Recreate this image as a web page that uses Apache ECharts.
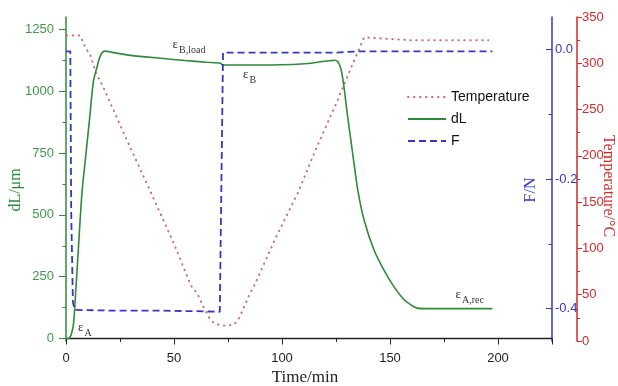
<!DOCTYPE html>
<html lang="en">
<head>
<meta charset="utf-8">
<title>dL / F / Temperature</title>
<style>
  html, body { margin: 0; padding: 0; background: #fff; }
  #main { width: 618px; height: 386px; }
</style>
</head>
<body>
<div id="main"></div>
<script src="https://cdn.jsdelivr.net/npm/echarts/dist/echarts.min.js"></script>
<script>
// ---- data ----
var tempTime = [0.3, 6.5, 8.8, 11.4, 13.8, 17.3, 28, 39, 50, 57.8, 60.9, 63.2, 66.3, 68.6, 71.7, 74.8, 77.9, 80.2, 82.5, 84.9, 87.2, 97, 107.5, 116, 125, 133.4, 138, 145, 152, 159, 170, 195.5];
var tempValue = [330, 330, 318, 308, 290, 274, 218, 162, 105, 60, 51, 39, 25, 19, 17, 16.5, 18, 25, 37, 50, 60, 111, 161, 209, 256, 303, 328, 327, 326, 325, 325, 325];

var dLTime = [0, 1.5, 2.5, 3.5, 4.5, 5.5, 7.4, 9, 11, 12.7, 14.4, 16, 18, 22, 30, 44, 55, 65, 71.5, 72.6, 85, 95, 105, 112, 118, 122, 124.3, 125.8, 127.3, 128.7, 130, 132.6, 135.1, 138, 142.6, 147.2, 151.8, 156.2, 159.8, 162.6, 166, 197.4];
var dLValue = [0, 2, 18, 61, 190, 330, 590, 726, 896, 1040, 1099, 1145, 1162, 1156, 1145, 1133, 1124, 1117, 1113, 1106, 1106, 1106, 1108, 1112, 1119, 1123, 1125, 1120, 1090, 1017, 924, 756, 600, 479, 358, 277, 210, 160, 135, 123, 121, 121];

var fTime = [0, 2.0, 2.4, 3.2, 4, 20, 40, 60, 71.2, 72.7, 100, 125, 135, 197.4];
var fValue = [-0.003, -0.003, -0.25, -0.39, -0.402, -0.403, -0.403, -0.404, -0.405, -0.005, -0.005, -0.005, -0.003, -0.003];

var dLMajor = [0, 250, 500, 750, 1000, 1250];
var dLMinor = [125, 375, 625, 875, 1125];
var fMajor = [-0.4, -0.2, 0];
var fMinor = [-0.3, -0.1];

function pairs(xs, ys) {
    var out = [];
    for (var i = 0; i < xs.length; i++) out.push([xs[i], ys[i]]);
    return out;
}

var GREEN = '#2e8b3a';
var BLUE = '#3636c8';
var RED = '#d42a2a';
var DOTS = '#d66878';
var SERIF = '"Liberation Serif", "Times New Roman", serif';
var SANS = '"Liberation Sans", Arial, sans-serif';

var chart = echarts.init(document.getElementById('main'));

// epsilon annotations: [left, centre y, subscript]
var notes = [
    [172.5, 45, 'B,load'],
    [243, 75, 'B'],
    [78, 328, 'A'],
    [455.5, 295, 'A,rec']
];
var graphics = [];
notes.forEach(function (n) {
    graphics.push({ type: 'text', x: n[0], y: n[1], style: { text: '\u03b5', font: '13px ' + SERIF, fill: '#333', align: 'left', verticalAlign: 'middle' } });
    graphics.push({ type: 'text', x: n[0] + 6.5, y: n[1] + 5.5, style: { text: n[2], font: '10px ' + SERIF, fill: '#333', align: 'left', verticalAlign: 'middle' } });
});
graphics.push({ type: 'text', x: 16, y: 190, rotation: Math.PI / 2, style: { text: 'dL/\u03bcm', font: '16px ' + SERIF, fill: GREEN, align: 'center', verticalAlign: 'middle' } });
graphics.push({ type: 'text', x: 531, y: 190, rotation: Math.PI / 2, style: { text: 'F/N', font: '16px ' + SERIF, fill: BLUE, align: 'center', verticalAlign: 'middle' } });
graphics.push({ type: 'text', x: 608, y: 186, rotation: -Math.PI / 2, style: { text: 'Temperature/\u00b0C', font: '16px ' + SERIF, fill: RED, align: 'center', verticalAlign: 'middle' } });
graphics.push({ type: 'text', x: 305, y: 378, style: { text: 'Time/min', font: '17px ' + SERIF, fill: '#222', align: 'center', verticalAlign: 'middle' } });

var option = {
    animation: false,
    backgroundColor: '#fff',
    grid: { left: 66, right: 66, top: 17, bottom: 45, containLabel: false },
    legend: {
        orient: 'vertical',
        left: 407,
        top: 90,
        padding: 0,
        itemWidth: 38,
        itemHeight: 14,
        itemGap: 8,
        itemStyle: { opacity: 0 },
        textStyle: { fontFamily: SANS, fontSize: 14, color: '#111' },
        data: ['Temperature', 'dL', 'F']
    },
    xAxis: {
        type: 'value',
        min: 0,
        max: 225,
        interval: 50,
        axisLine: { lineStyle: { color: '#222', width: 1.3 } },
        axisTick: { length: 6, lineStyle: { color: '#222' } },
        minorTick: { show: true, splitNumber: 2, length: 3.5, lineStyle: { color: '#222' } },
        axisLabel: { showMaxLabel: false, margin: 11, fontFamily: SANS, fontSize: 13, color: '#222' },
        splitLine: { show: false }
    },
    yAxis: [
        {
            type: 'value', position: 'left', min: -10, max: 1300,
            axisLine: { show: true, lineStyle: { color: GREEN, width: 1.5 } },
            axisTick: { show: true, length: 7, customValues: dLMajor, lineStyle: { color: GREEN } },
            axisLabel: { customValues: dLMajor, margin: 12, fontFamily: SANS, fontSize: 13, color: '#3c9a48', formatter: function (v) { return String(v); } },
            splitLine: { show: false }
        },
        {
            type: 'value', position: 'right', offset: 0, min: -0.45, max: 0.05,
            axisLine: { show: true, lineStyle: { color: BLUE, width: 1.5 } },
            axisTick: { show: true, inside: true, length: 6, customValues: fMajor, lineStyle: { color: BLUE } },
            axisLabel: { customValues: fMajor, margin: 3, fontFamily: SANS, fontSize: 13, color: BLUE, formatter: function (v) { return v.toFixed(1); } },
            splitLine: { show: false }
        },
        {
            type: 'value', position: 'right', offset: 25, min: 0, max: 350, interval: 50,
            axisLine: { show: true, lineStyle: { color: RED, width: 1.5 } },
            axisTick: { show: true, length: 5, lineStyle: { color: RED } },
            minorTick: { show: true, splitNumber: 2, length: 3, lineStyle: { color: RED } },
            axisLabel: { margin: 5, fontFamily: SANS, fontSize: 13, color: RED },
            splitLine: { show: false }
        },
        {
            type: 'value', position: 'left', min: -10, max: 1300,
            axisLine: { show: false },
            axisTick: { show: true, length: 3.5, customValues: dLMinor, lineStyle: { color: GREEN } },
            axisLabel: { show: false },
            splitLine: { show: false }
        },
        {
            type: 'value', position: 'right', offset: 0, min: -0.45, max: 0.05,
            axisLine: { show: false },
            axisTick: { show: true, inside: true, length: 3.5, customValues: fMinor, lineStyle: { color: BLUE } },
            axisLabel: { show: false },
            splitLine: { show: false }
        }
    ],
    series: [
        {
            name: 'Temperature', type: 'line', yAxisIndex: 2, symbol: 'none', smooth: false,
            lineStyle: { color: DOTS, width: 2, type: [0.5, 5.5], cap: 'round' },
            itemStyle: { color: DOTS },
            data: pairs(tempTime, tempValue)
        },
        {
            name: 'dL', type: 'line', yAxisIndex: 0, symbol: 'none', smooth: 0.3,
            lineStyle: { color: GREEN, width: 1.6 },
            itemStyle: { color: GREEN },
            data: pairs(dLTime, dLValue)
        },
        {
            name: 'F', type: 'line', yAxisIndex: 1, symbol: 'none',
            lineStyle: { color: BLUE, width: 1.8, type: [7, 4] },
            itemStyle: { color: BLUE },
            data: pairs(fTime, fValue)
        }
    ],
    graphic: graphics
};
chart.setOption(option);
</script>
</body>
</html>
